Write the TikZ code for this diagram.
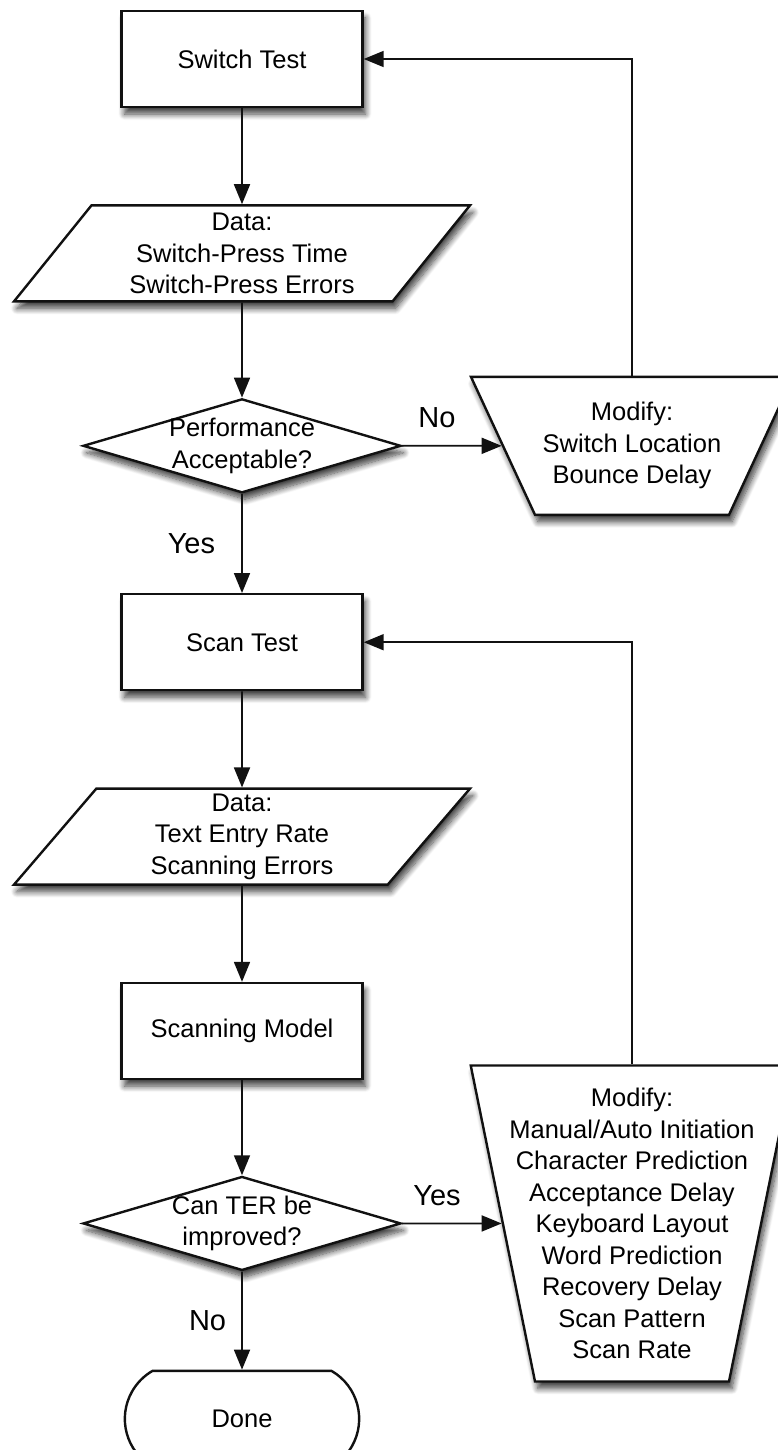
\documentclass[tikz,border=0pt]{standalone}
\usepackage{fontspec}
\setmainfont{Liberation Sans}
\usepackage{tikz}
\usetikzlibrary{arrows.meta,positioning,shapes.geometric,shapes.misc,shadows.blur}
\definecolor{ink}{RGB}{17,17,17}

\begin{document}
\begin{tikzpicture}[
  node distance=96pt,
  font=\fontsize{25.5}{31.5}\selectfont,
  every label/.style={align=center, inner sep=0pt},
  shade/.style={blur shadow={shadow xshift=3pt, shadow yshift=-7pt, shadow blur radius=6pt, shadow blur steps=10, shadow opacity=75}},
  proc/.style={draw=ink, line width=2.4pt, fill=white, minimum width=241pt, minimum height=96pt, shade},
  datum/.style={trapezium, trapezium left angle=46.2, trapezium right angle=133.8, trapezium stretches body, draw=ink, line width=2.4pt, fill=white, minimum width=456pt, minimum height=96pt, align=center, inner sep=0pt, shade},
  decision/.style={diamond, draw=ink, line width=2.4pt, fill=white, minimum width=318pt, minimum height=94pt, inner sep=0pt, shade},
  modify/.style={trapezium, shape border rotate=180, draw=ink, line width=2.4pt, fill=white, text width=194pt, text depth=0pt, inner sep=0pt, shade},
  term/.style={rounded rectangle, rounded rectangle arc length=120, draw=ink, line width=2.4pt, fill=white, minimum width=241pt, minimum height=96pt},
  lbl/.style={font=\fontsize{29}{34}\selectfont, inner sep=0pt},
  arr/.style={-{Triangle[length=20pt, width=16pt]}, line width=1.8pt, draw=ink}
]
  \useasboundingbox (0,0) rectangle (778pt,-1450pt);
  \node[proc] (switch) at (242pt,-59pt) {Switch Test};
  \node[datum, below=of switch] (press) {Data:\\Switch-Press Time\\Switch-Press Errors};
  \node[decision, below=95pt of press, label={center:{Performance\\Acceptable?}}] (perf) {};
  \node[modify, trapezium left angle=65.1, trapezium right angle=65.1, text height=138pt,
    label={center:{Modify:\\Switch Location\\Bounce Delay}}] (mod1) at ([xshift=390pt]perf.center) {};
  \node[proc, below=99pt of perf] (scan) {Scan Test};
  \node[datum, below=of scan] (rate) {Data:\\Text Entry Rate\\Scanning Errors};
  \node[proc, below=of rate] (model) {Scanning Model};
  \node[decision, below=95pt of model, label={center:{Can TER be\\improved?}}] (ter) {};
  \node[modify, trapezium left angle=78.5, trapezium right angle=78.5, text height=316pt,
    label={center:{Modify:\\Manual/Auto Initiation\\Character Prediction\\Acceptance Delay\\Keyboard Layout\\Word Prediction\\Recovery Delay\\Scan Pattern\\Scan Rate}}] (mod2) at ([xshift=390pt]ter.center) {};
  \node[term, below=98pt of ter] (done) {Done};

  \draw[arr] (switch) -- (press);
  \draw[arr] (press) -- (perf);
  \draw[arr] (perf) -- node[lbl, left=26pt] {Yes} (scan);
  \draw[arr] (perf) -- node[lbl, above=17pt, pos=.35] {No} (mod1);
  \draw[arr] (mod1.north) |- (switch.east);
  \draw[arr] (scan) -- (rate);
  \draw[arr] (rate) -- (model);
  \draw[arr] (model) -- (ter);
  \draw[arr] (ter) -- node[lbl, above=17pt, pos=.35] {Yes} (mod2);
  \draw[arr] (ter) -- node[lbl, left=15pt] {No} (done);
  \draw[arr] (mod2.north) |- (scan.east);
\end{tikzpicture}
\end{document}
